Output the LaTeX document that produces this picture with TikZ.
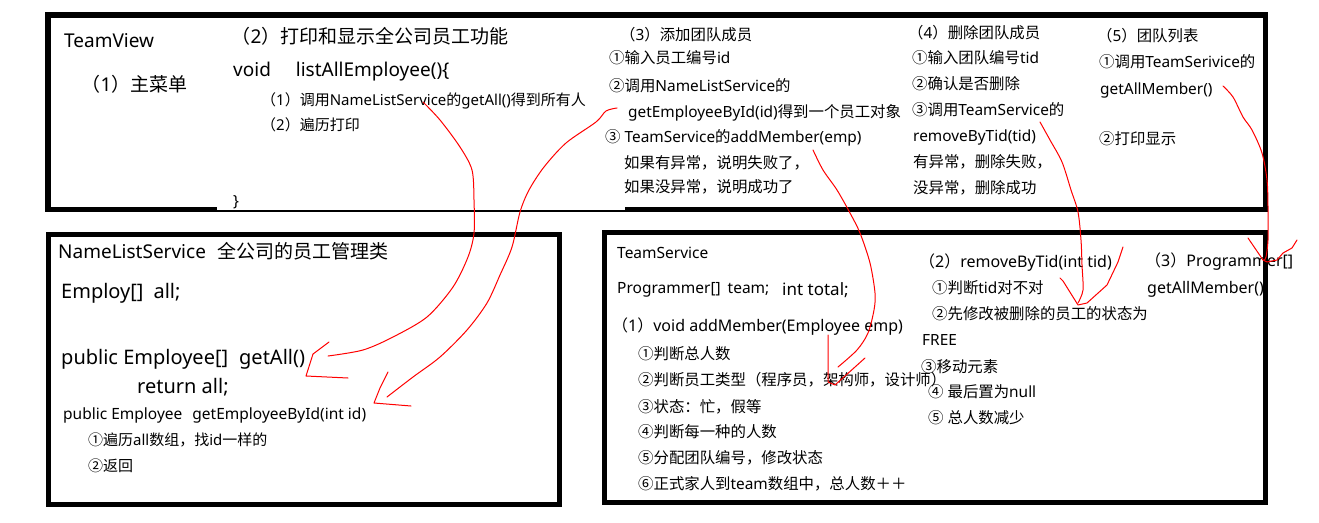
\documentclass[tikz,border=0pt]{standalone}
\usepackage{fontspec}
\setmainfont{Noto Sans}
\newfontfamily\zhfont{Noto Sans CJK SC}
% Chinese, circled numbers and full-width forms go to the CJK font
\XeTeXinterchartokenstate=1
\newXeTeXintercharclass\zhclass
\newcount\zhcnt
\newcommand\zhrange[2]{\zhcnt=#1\relax
  \loop\XeTeXcharclass\zhcnt=\zhclass
  \ifnum\zhcnt<#2\advance\zhcnt by 1\repeat}
\zhrange{"2460}{"24FF}
\zhrange{"3000}{"303F}
\zhrange{"4E00}{"9FFF}
\zhrange{"FF00}{"FFEF}
\XeTeXinterchartoks 0 \zhclass = {\zhfont}
\XeTeXinterchartoks 4095 \zhclass = {\zhfont}
\XeTeXinterchartoks \zhclass 0 = {\rmfamily}
\XeTeXinterchartoks \zhclass 4095 = {\rmfamily}

\begin{document}
\begin{tikzpicture}[x=1pt, y=-1pt,
  every node/.style={anchor=base west, inner sep=0pt},
  bigtxt/.style={font=\fontsize{19}{23}\selectfont},
  codetxt/.style={font=\fontsize{20}{24}\selectfont},
  midtxt/.style={font=\fontsize{16}{19}\selectfont},
  subtxt/.style={font=\fontsize{15.5}{18}\selectfont},
  steptxt/.style={font=\fontsize{15.4}{18}\selectfont},
  smalltxt/.style={font=\fontsize{15}{17}\selectfont},
  frame/.style={line width=5.5pt},
  scribble/.style={red, line width=1pt, line cap=round, line join=round}]
  \useasboundingbox (0,0) rectangle (1319,522);
  % TeamView
  \node[bigtxt] (teamview) at (64,47.5) {TeamView};
  \node[bigtxt] (mainmenu) at (81.5,91.7) {（1）主菜单};
  \node[bigtxt] (printtitle) at (231.5,43.4) {（2）打印和显示全公司员工功能};
  \node[bigtxt] (listall) at (233,76) {void\hspace{25pt}listAllEmployee()\{};
  \node[smalltxt] (listgetall) at (261,105) {（1）调用NameListService的getAll()得到所有人};
  \node[smalltxt] (listprint) at (261,130) {（2）遍历打印};
  \node[steptxt] (listend) at (233,206) {\}};
  \node[steptxt] (addtitle) at (620,40.3) {（3）添加团队成员};
  \node[steptxt] (adda) at (609,63.3) {①输入员工编号id};
  \node[steptxt] (addb) at (609,91.3) {②调用NameListService的};
  \node[steptxt] (addc) at (628,117) {getEmployeeById(id)得到一个员工对象};
  \node[steptxt] (addd) at (605,142.3) {③ TeamService的addMember(emp)};
  \node[steptxt] (adde) at (624,168.3) {如果有异常，说明失败了，};
  \node[steptxt] (addf) at (624,192.3) {如果没异常，说明成功了};
  \node[steptxt] (deltitle) at (908,38.3) {（4）删除团队成员};
  \node[steptxt] (dela) at (912,63.3) {①输入团队编号tid};
  \node[steptxt] (delb) at (912,89.3) {②确认是否删除};
  \node[steptxt] (delc) at (912,115.3) {③调用TeamService的};
  \node[steptxt] (deld) at (913,141.5) {removeByTid(tid)};
  \node[steptxt] (dele) at (913,167.3) {有异常，删除失败，};
  \node[steptxt] (delf) at (913,193.3) {没异常，删除成功};
  \node[steptxt] (teamtitle) at (1097,41.3) {（5）团队列表};
  \node[steptxt] (teama) at (1099,67.3) {①调用TeamSerivice的};
  \node[steptxt] (teamb) at (1100,94) {getAllMember()};
  \node[steptxt] (teamc) at (1099,144.3) {②打印显示};
  % NameListService
  \node[bigtxt] (nlstitle) at (58,258.7) {NameListService\hspace{12pt}全公司的员工管理类};
  \node[codetxt] (nlsall) at (61,298.5) {Employ[]\hspace{10pt}all;};
  \node[codetxt] (nlsgetall) at (61,364.5) {public Employee[]\hspace{11pt}getAll()};
  \node[codetxt] (nlsreturn) at (137,393.5) {return all;};
  \node[subtxt] (nlsbyid) at (63,419.5) {public Employee\hspace{10pt}getEmployeeById(int id)};
  \node[smalltxt] (nlsbyida) at (88,445) {①遍历all数组，找id一样的};
  \node[smalltxt] (nlsbyidb) at (88,471) {②返回};
  % TeamService
  \node[subtxt] (tstitle) at (617,258) {TeamService};
  \node[subtxt] (tsteam) at (617,293) {Programmer[]\hspace{7pt}team;};
  \node[font=\fontsize{17}{20}\selectfont] (tstotal) at (782,295.5) {int total;};
  \node[midtxt] (tsadd) at (612,331.5) {（1）void addMember(Employee emp)};
  \node[steptxt] (tsadda) at (638,359.3) {①判断总人数};
  \node[steptxt] (tsaddb) at (638,385.3) {②判断员工类型（程序员，架构师，设计师）};
  \node[steptxt] (tsaddc) at (638,412.3) {③状态：忙，假等};
  \node[steptxt] (tsaddd) at (638,437.3) {④判断每一种的人数};
  \node[steptxt] (tsadde) at (638,463.3) {⑤分配团队编号，修改状态};
  \node[steptxt] (tsaddf) at (638,489.3) {⑥正式家人到team数组中，总人数＋＋};
  \node[midtxt] (tsremove) at (919,267.5) {（2）removeByTid(int tid)};
  \node[steptxt] (tsremovea) at (932,293.3) {①判断tid对不对};
  \node[steptxt] (tsremoveb) at (932,319.3) {②先修改被删除的员工的状态为};
  \node[steptxt] (tsremovec) at (922,345.3) {FREE};
  \node[steptxt] (tsremoved) at (921,372.3) {③移动元素};
  \node[steptxt] (tsremovee) at (928,397.3) {④ 最后置为null};
  \node[steptxt] (tsremovef) at (928,423.3) {⑤ 总人数减少};
  \node[midtxt] (tsmember) at (1145,266.5) {（3）Programmer[]};
  \node[midtxt] (tsmembera) at (1147,293) {getAllMember()};
  % frames
  \draw[frame] (217,209.5) -- (48,209.5) -- (48,15) -- (1265.5,15) -- (1265.5,209.5) -- (625,209.5);
  \draw[line width=2pt] (217,211) -- (625,211);
  \draw[frame] (48.5,234.5) rectangle (559.5,504.5);
  \draw[frame] (604.5,232.5) rectangle (1265.5,502.5);
  % red scribbles
  \coordinate (getallfrom) at (423,102);
  \coordinate (getallto) at (328,356);
  \draw[scribble] plot[smooth] coordinates {(getallfrom) (440,120) (460,147) (472,170) (474,200) (474,233) (468,257) (453,287) (427,317) (393,337) (363,350) (getallto)};
  \draw[scribble] (329,342) -- (313,354) -- (306,376) -- (348,378);
  \coordinate (byidfrom) at (617,108);
  \coordinate (byidto) at (387,397);
  \draw[scribble] plot[smooth] coordinates {(byidfrom) (606,111) (596,122) (566,143) (544,167) (529,190) (520,212) (512,247) (500,275) (487,303) (467,330) (440,357) (413,377) (byidto)};
  \draw[scribble] (388,372) -- (380,388) -- (374,403) -- (411,406);
  \coordinate (addfrom) at (813,150);
  \coordinate (addto) at (838,367);
  \draw[scribble] plot[smooth] coordinates {(addfrom) (823,170) (837,190) (850,213) (860,233) (870,263) (875,293) (874,310) (868,333) (857,350) (addto)};
  \draw[scribble] (828,335) -- (828,382) -- (835,385) -- (865,358);
  \coordinate (removefrom) at (1040,122);
  \coordinate (removeto) at (1078,303);
  \draw[scribble] plot[smooth] coordinates {(removefrom) (1050,140) (1062,162) (1071,190) (1078,212) (1081,240) (1082,265) (1083,290) (removeto)};
  \draw[scribble] (1060,278) -- (1063,281) -- (1073,297) -- (1078,305) -- (1087,303) -- (1107,285) -- (1118,262) -- (1123,247);
  \coordinate (memberfrom) at (1223,86);
  \coordinate (memberto) at (1264,260);
  \draw[scribble] plot[smooth] coordinates {(memberfrom) (1233,97) (1243,117) (1252,130) (1262,153) (1267,180) (1268,207) (1268,240) (1266,257) (memberto)};
  \draw[scribble] (1248,238) -- (1263,260) -- (1267,262) -- (1277,260) -- (1283,253) -- (1292,248) -- (1297,240);
\end{tikzpicture}
\end{document}
